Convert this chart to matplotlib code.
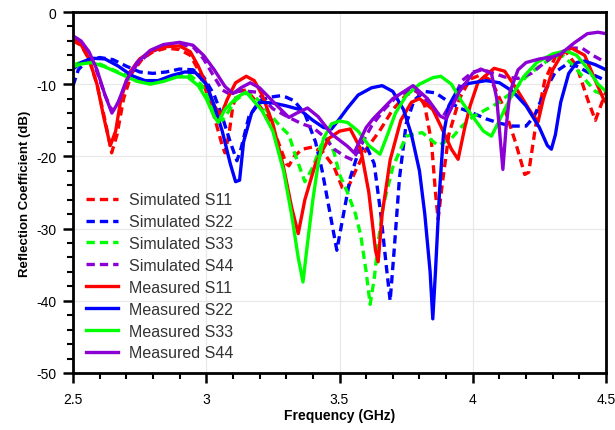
import matplotlib
matplotlib.use("Agg")
import matplotlib.pyplot as plt
from matplotlib.ticker import MultipleLocator

plt.rcParams['font.family'] = ['Liberation Sans', 'DejaVu Sans']
plt.rcParams['axes.unicode_minus'] = False

# ---------------- data (frequency GHz, reflection dB) ----------------
sim_s11_f = [2.5, 2.53, 2.56, 2.59, 2.62, 2.645, 2.665, 2.69, 2.72, 2.76, 2.8, 2.85, 2.9, 2.94, 2.97,
             3.0, 3.03, 3.06, 3.07, 3.085, 3.1, 3.12, 3.15, 3.19, 3.23, 3.27, 3.3, 3.31, 3.33, 3.36,
             3.4, 3.44, 3.48, 3.51, 3.53, 3.56, 3.6, 3.65, 3.7, 3.75, 3.79, 3.82, 3.845, 3.86, 3.87,
             3.885, 3.91, 3.95, 3.99, 4.03, 4.07, 4.12, 4.16, 4.195, 4.21, 4.235, 4.27, 4.31, 4.35,
             4.39, 4.43, 4.46, 4.48, 4.5]
sim_s11_db = [-4, -4.6, -6.5, -10, -15, -19.5, -17, -12, -8.5, -6.5, -5.5, -5, -5.2, -6, -8,
              -11, -14.5, -18.5, -19.5, -17, -13, -11, -10.8, -12.5, -14.5, -18, -21, -21.3, -20, -19,
              -18.7, -19.5, -21.5, -24.3, -24.5, -22, -19, -16.5, -13.5, -11.5, -10.9, -13, -18, -25, -28.7,
              -24, -17, -12, -9.3, -8.7, -9.5, -13.5, -18, -22.5, -22.2, -16, -9.5, -6.2, -5.5,
              -7.5, -12, -15, -13, -11]

sim_s22_f = [2.5, 2.52, 2.55, 2.6, 2.65, 2.7, 2.75, 2.8, 2.85, 2.9, 2.95, 2.99, 3.03, 3.06, 3.09,
             3.115, 3.13, 3.16, 3.2, 3.24, 3.277, 3.3, 3.33, 3.37, 3.41, 3.435, 3.46, 3.49, 3.51, 3.54,
             3.57, 3.6, 3.63, 3.655, 3.675, 3.69, 3.705, 3.725, 3.75, 3.78, 3.82, 3.86, 3.9, 3.95, 4.0,
             4.05, 4.1, 4.15, 4.2, 4.23, 4.27, 4.31, 4.35, 4.39, 4.44, 4.5]
sim_s22_db = [-10.2, -8, -6.8, -6.3, -6.6, -7.5, -8.3, -8.5, -8.3, -7.9, -8, -9, -11.5, -14.5, -18,
              -20.6, -19, -14.5, -12.3, -11.8, -11.6, -11.8, -12.3, -14.1, -18, -22, -27, -33, -29, -23,
              -19.5, -18.5, -21, -28, -35, -40, -33, -23, -15.5, -12.2, -11, -11.2, -12.2, -13.3, -14,
              -14.8, -15.4, -15.8, -15.8, -14.5, -11, -8.3, -7.3, -7.5, -8.5, -9.5]

sim_s33_f = [2.5, 2.55, 2.6, 2.65, 2.7, 2.75, 2.8, 2.85, 2.9, 2.94, 2.98, 3.01, 3.04, 3.06, 3.08,
             3.11, 3.15, 3.19, 3.23, 3.277, 3.31, 3.333, 3.37, 3.4, 3.43, 3.455, 3.48, 3.5, 3.53, 3.56,
             3.58, 3.6, 3.615, 3.63, 3.645, 3.663, 3.7, 3.75, 3.81, 3.87, 3.92, 3.96, 4.0, 4.05, 4.1,
             4.15, 4.2, 4.25, 4.3, 4.34, 4.38, 4.42, 4.46, 4.5]
sim_s33_db = [-7.3, -6.8, -7.2, -8, -8.8, -9.5, -9.7, -9.3, -8.7, -8.8, -10, -12, -14.3, -15, -14,
              -12.2, -11.2, -12, -13.8, -15.8, -17, -19.7, -23.5, -21.5, -18.5, -17.5, -19.5, -22.5, -25, -28,
              -31, -36, -40.5, -37, -32, -27, -21.5, -17.2, -16.7, -18.5, -17.5, -15.8, -14.5, -13.5, -12.5,
              -11, -9, -7.5, -6.3, -6.1, -7.5, -9.3, -11, -11.6]

sim_s44_f = [2.5, 2.53, 2.56, 2.59, 2.62, 2.645, 2.67, 2.7, 2.74, 2.79, 2.84, 2.9, 2.95, 2.99, 3.03,
             3.06, 3.09, 3.127, 3.19, 3.25, 3.31, 3.36, 3.4, 3.44, 3.48, 3.52, 3.55, 3.58, 3.62, 3.67,
             3.72, 3.78, 3.82, 3.86, 3.89, 3.92, 3.96, 4.0, 4.04, 4.08, 4.12, 4.17, 4.22, 4.27, 4.32,
             4.37, 4.41, 4.45, 4.5]
sim_s44_db = [-3.5, -4.2, -5.8, -8.3, -11.5, -13.7, -12.5, -9.8, -7.2, -5.6, -4.8, -4.5, -4.8, -6.5, -9,
              -10.8, -11.4, -10.9, -11.1, -13.4, -14.6, -15.5, -16, -17.2, -19, -20, -20.5, -18.5, -15.8, -13.4,
              -11.5, -10.7, -12, -14, -14.4, -12.5, -9.5, -8.3, -8, -8.5, -9, -9.2, -8.5, -7, -5.7,
              -5, -5, -6, -7]

meas_s11_f = [2.5, 2.53, 2.56, 2.59, 2.615, 2.64, 2.66, 2.68, 2.71, 2.75, 2.8, 2.85, 2.9, 2.94, 2.97,
              3.0, 3.03, 3.055, 3.08, 3.11, 3.15, 3.18, 3.21, 3.25, 3.29, 3.32, 3.345, 3.37, 3.41, 3.46,
              3.5, 3.54, 3.58, 3.61, 3.635, 3.645, 3.66, 3.69, 3.73, 3.77, 3.8, 3.85, 3.88, 3.92, 3.945,
              3.97, 3.99, 4.02, 4.08, 4.12, 4.17, 4.22, 4.245, 4.265, 4.3, 4.34, 4.37, 4.42, 4.46, 4.49,
              4.5]
meas_s11_db = [-3.7, -4.5, -6.5, -10, -14.5, -18.5, -16.5, -12, -8.5, -6.5, -5.3, -4.8, -4.7, -5.5, -7.5,
               -10, -13, -14.3, -12, -9.8, -8.9, -9.5, -11.5, -15.5, -21.5, -27, -30.7, -26, -21, -17.5,
               -16.5, -16.2, -19, -25, -33, -34.6, -28, -20.5, -15, -12.5, -12, -13.5, -15.8, -19, -20.4,
               -16, -13, -9.7, -7.8, -8.2, -11, -14, -15.2, -12, -8, -5.5, -5.0, -6, -9.5, -12,
               -12.5]

meas_s22_f = [2.5, 2.53, 2.57, 2.62, 2.67, 2.72, 2.77, 2.82, 2.87, 2.92, 2.96, 3.0, 3.03, 3.06, 3.09,
              3.11, 3.125, 3.14, 3.17, 3.2, 3.25, 3.3, 3.35, 3.4, 3.44, 3.47, 3.5, 3.53, 3.57, 3.62,
              3.66, 3.7, 3.74, 3.77, 3.8, 3.82, 3.84, 3.85, 3.86, 3.875, 3.89, 3.91, 3.94, 3.97, 4.0,
              4.05, 4.1, 4.15, 4.2, 4.25, 4.28, 4.295, 4.31, 4.33, 4.36, 4.39, 4.42, 4.46, 4.5]
meas_s22_db = [-7.9, -7, -6.4, -6.5, -7.5, -8.8, -9.5, -9.5, -8.8, -8.3, -8.4, -10, -13, -16.5, -21,
               -23.5, -23.3, -18, -14, -12.5, -12.6, -13, -13.5, -15, -16, -16.2, -14.8, -13.3, -11.5, -10.5,
               -10.2, -11, -13.5, -17, -22, -28, -36, -42.5, -36, -25, -17, -13, -11, -10, -9.8,
               -9.5, -9.8, -11, -13, -16, -18.5, -19, -17, -12.5, -8.5, -7, -6.8, -7.3, -8]

meas_s33_f = [2.5, 2.53, 2.57, 2.62, 2.68, 2.74, 2.79, 2.84, 2.89, 2.93, 2.97, 3.0, 3.03, 3.045, 3.07,
              3.115, 3.15, 3.21, 3.25, 3.29, 3.32, 3.345, 3.363, 3.38, 3.4, 3.42, 3.44, 3.47, 3.5, 3.53,
              3.57, 3.61, 3.652, 3.68, 3.71, 3.75, 3.8, 3.85, 3.88, 3.92, 3.96, 4.0, 4.04, 4.07, 4.1,
              4.14, 4.19, 4.24, 4.3, 4.35, 4.39, 4.43, 4.47, 4.5]
meas_s33_db = [-7.6, -7.2, -7, -7.6, -8.6, -9.6, -10, -9.6, -9, -9, -10.2, -12, -14.5, -15.3, -13.5,
               -11.8, -11.1, -13.7, -16.5, -22, -28, -34, -37.4, -32, -26, -21, -17.5, -15.5, -15.1, -15.3,
               -16.5, -18.5, -19.7, -17, -14, -11.6, -10, -9.1, -8.9, -10, -12.5, -14.5, -16.5, -17.2, -15,
               -12, -9, -7, -5.8, -5.4, -6, -7.8, -10, -11]

meas_s44_f = [2.5, 2.53, 2.56, 2.59, 2.62, 2.646, 2.67, 2.7, 2.74, 2.79, 2.84, 2.9, 2.95, 2.99, 3.03,
              3.07, 3.1, 3.13, 3.165, 3.2, 3.24, 3.28, 3.31, 3.34, 3.38, 3.42, 3.47, 3.53, 3.555, 3.6,
              3.626, 3.7, 3.776, 3.83, 3.877, 3.9, 3.95, 4.0, 4.03, 4.07, 4.09, 4.113, 4.125, 4.14, 4.17,
              4.2, 4.25, 4.3, 4.33, 4.38, 4.43, 4.47, 4.5]
meas_s44_db = [-3.3, -4, -5.5, -8, -11.5, -14, -12.5, -9.5, -7, -5.3, -4.5, -4.2, -4.6, -6, -8,
               -10.3, -11.3, -10.5, -9.8, -10.5, -12, -13.5, -14.6, -14, -13.3, -14.5, -16.9, -18.6, -19.5, -16,
               -14.8, -12, -10.2, -12, -14.4, -14.8, -11, -8.5, -7.9, -8.5, -12, -21.8, -16, -11, -8,
               -7, -6.5, -6.2, -5.8, -4.3, -3, -2.8, -3.0]

series_labels = ["Simulated S11", "Simulated S22", "Simulated S33", "Simulated S44",
                 "Measured S11", "Measured S22", "Measured S33", "Measured S44"]
series_colors = ["#ff0000", "#0000ff", "#00ff00", "#8c00d4"]

x_ticks = [2.5, 3.0, 3.5, 4.0, 4.5]
x_tick_labels = ["2.5", "3", "3.5", "4", "4.5"]
y_ticks = [0, -10, -20, -30, -40, -50]
y_tick_labels = ["0", "-10", "-20", "-30", "-40", "-50"]

# ---------------- plot ----------------
fig = plt.figure(figsize=(6.15, 4.31), dpi=100)
ax = fig.add_axes([0.1187, 0.1323, 0.8667, 0.8375])

sim = [(sim_s11_f, sim_s11_db), (sim_s22_f, sim_s22_db), (sim_s33_f, sim_s33_db), (sim_s44_f, sim_s44_db)]
meas = [(meas_s11_f, meas_s11_db), (meas_s22_f, meas_s22_db), (meas_s33_f, meas_s33_db), (meas_s44_f, meas_s44_db)]

lw = 2.4
for i, (f, d) in enumerate(sim):
    ax.plot(f, d, color=series_colors[i], lw=lw, linestyle=(0, (2.5, 1.5)),
            label=series_labels[i], solid_joinstyle='round')
for i, (f, d) in enumerate(meas):
    ax.plot(f, d, color=series_colors[i], lw=lw, linestyle='-',
            label=series_labels[4 + i], solid_joinstyle='round')

ax.set_xlim(2.5, 4.5)
ax.set_ylim(-50, 0)
ax.set_xticks(x_ticks)
ax.set_xticklabels(x_tick_labels)
ax.set_yticks(y_ticks)
ax.set_yticklabels(y_tick_labels)
ax.xaxis.set_minor_locator(MultipleLocator(0.1))
ax.yaxis.set_minor_locator(MultipleLocator(2))
ax.tick_params(which='major', direction='out', length=7, width=1.8, labelsize=10, colors='black')
ax.tick_params(axis='x', which='major', pad=7)
ax.tick_params(axis='y', which='major', pad=5)
ax.tick_params(which='minor', direction='out', length=4, width=1.5)
ax.grid(True, which='major', color='#e8e8e8', lw=0.9)
ax.set_axisbelow(True)
for s in ax.spines.values():
    s.set_linewidth(2.0)

ax.set_xlabel("Frequency (GHz)", fontsize=10, fontweight='bold', labelpad=1)
ax.set_ylabel("Reflection Coefficient (dB)", fontsize=9.5, fontweight='bold', labelpad=4)

leg = ax.legend(loc='upper left', bbox_to_anchor=(0.007, 0.527), frameon=False, fontsize=11.5,
                handlelength=2.0, handletextpad=0.7, labelspacing=0.43, borderaxespad=0.2)
for t in leg.get_texts():
    t.set_color('#333333')

fig.savefig("out.png", dpi=100)
